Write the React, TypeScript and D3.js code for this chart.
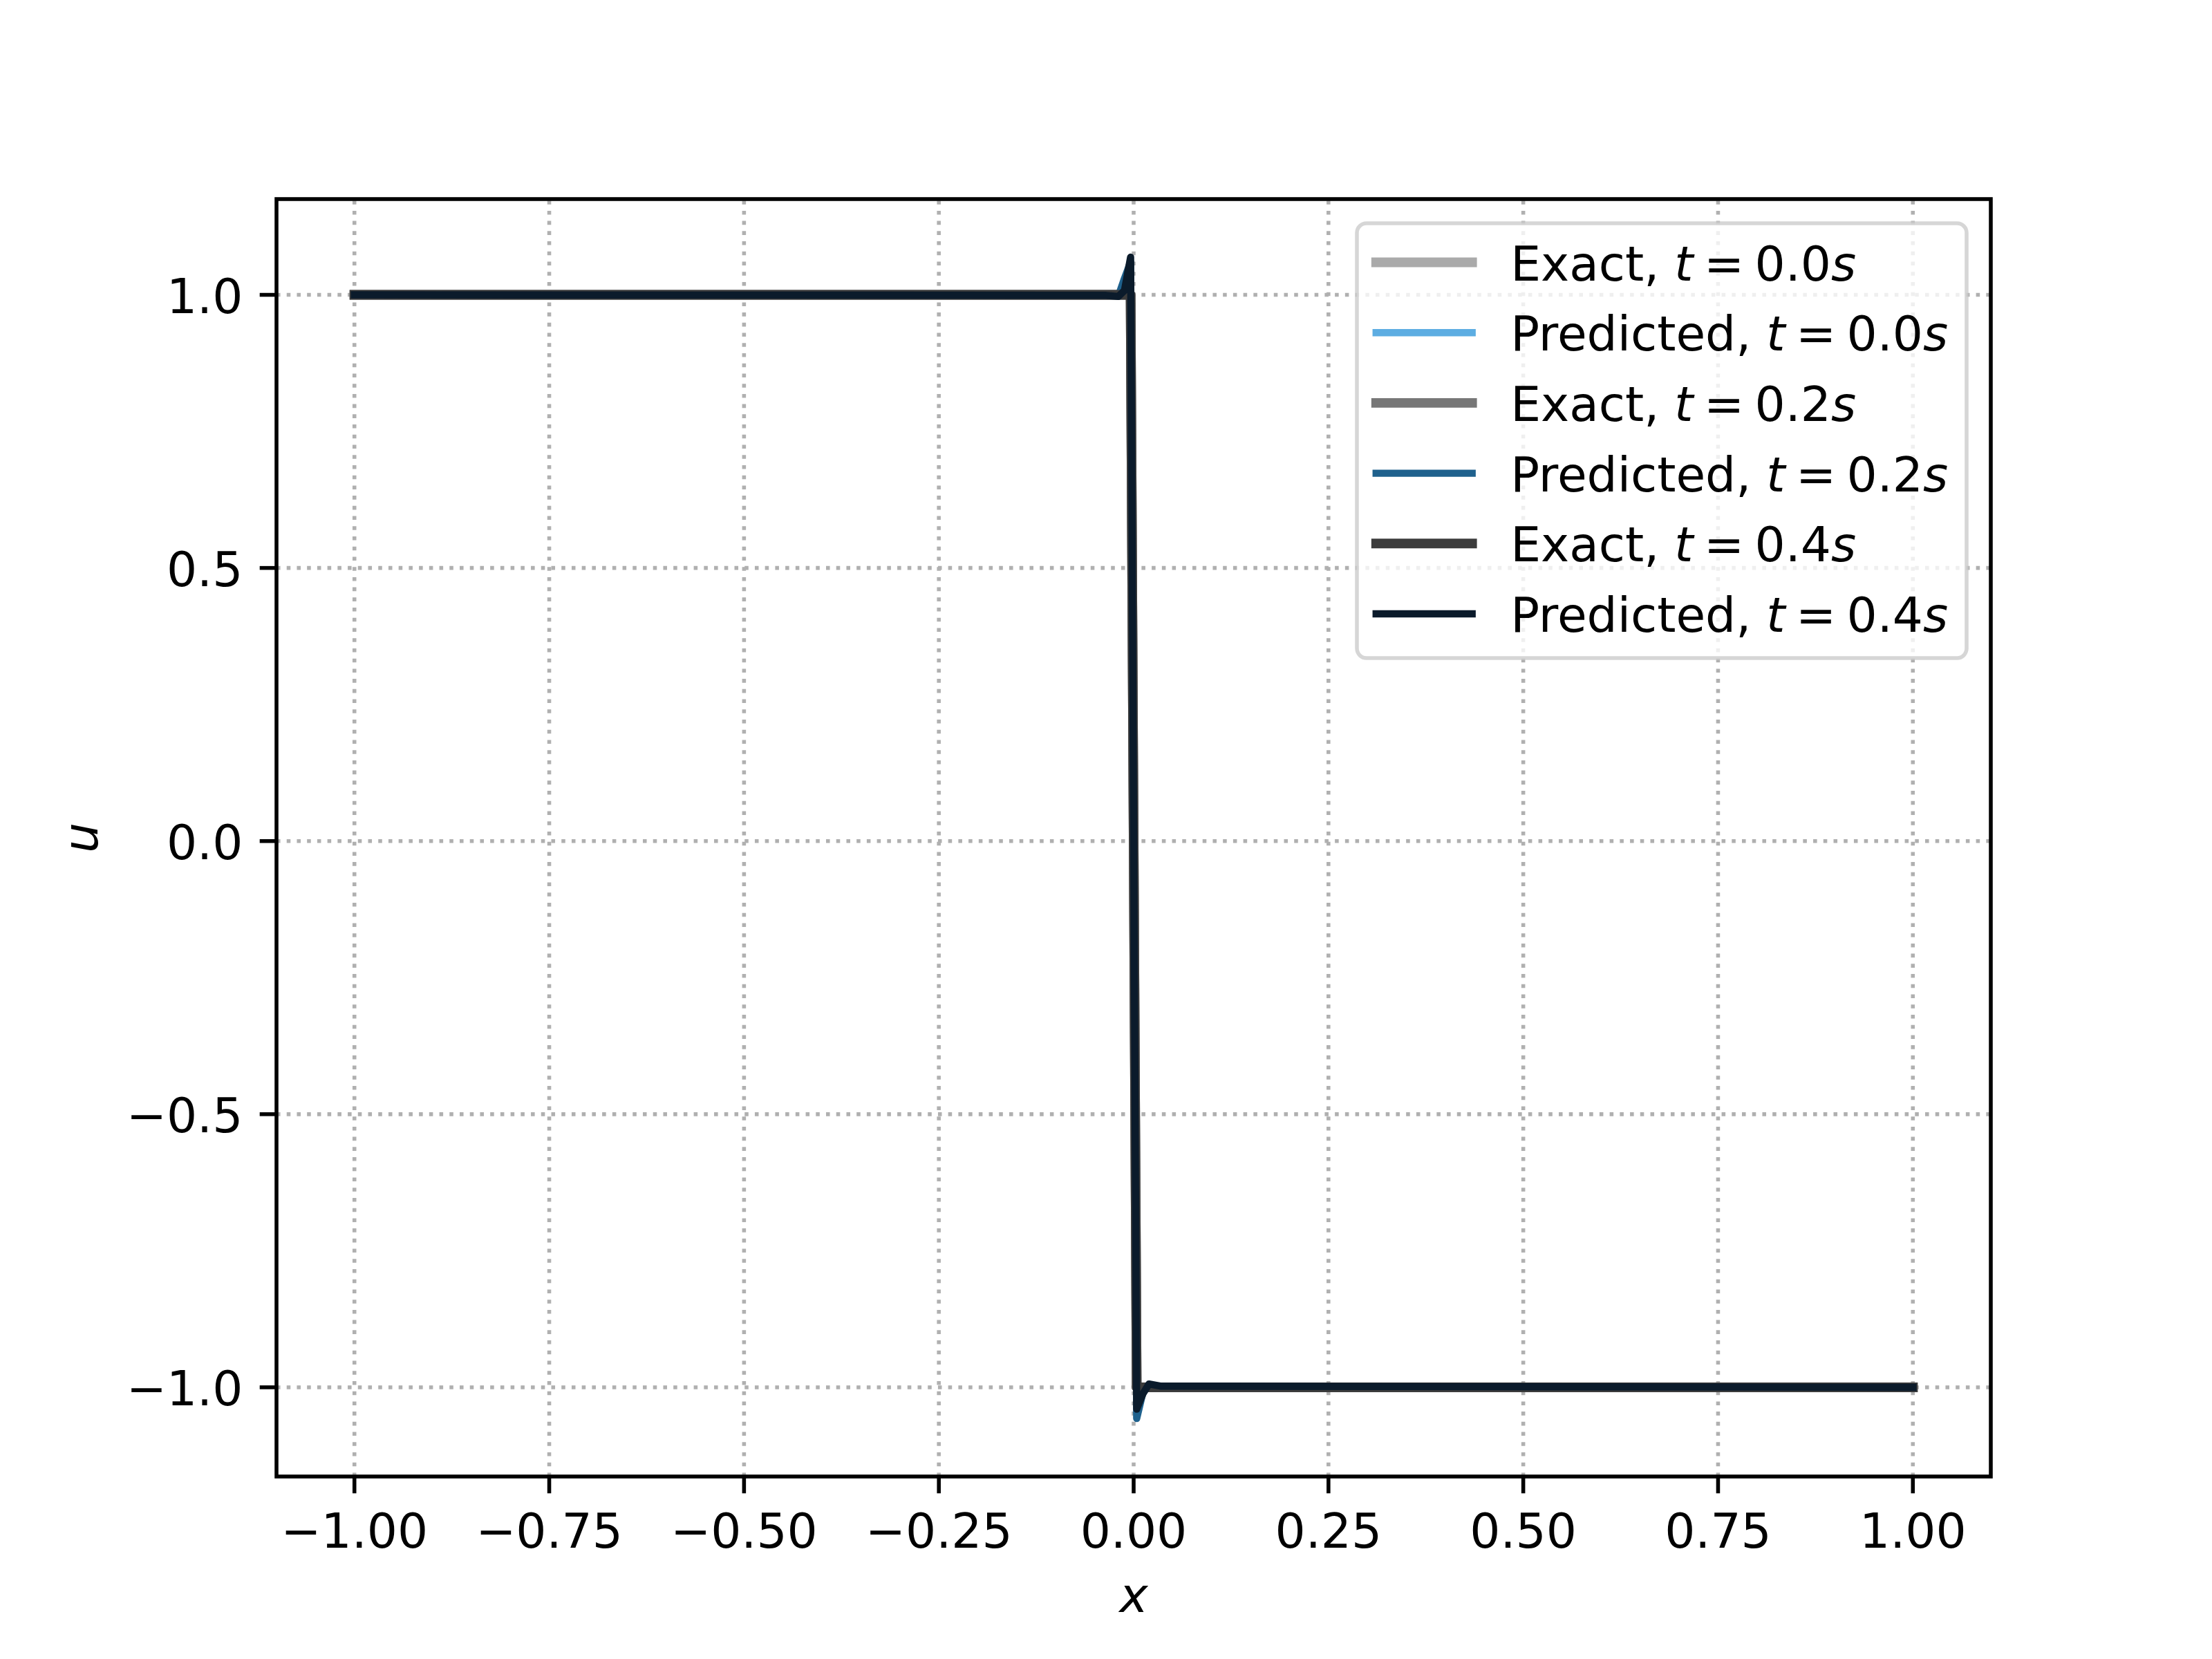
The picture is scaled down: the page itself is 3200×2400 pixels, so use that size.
import * as d3 from 'd3';

// exact solution: stationary shock at x = 0
const xExact = [-1, -0.0039, 0.0039, 1];
const uExact00 = [1, 1, -1, -1];
const uExact02 = [1, 1, -1, -1];
const uExact04 = [1, 1, -1, -1];

// network predictions (small overshoot around the shock)
const xPred = [-1, -0.0353, -0.0196, -0.0118, -0.0039, 0.0039, 0.0118, 0.0196, 0.0353, 1];
const uPred00 = [1, 1, 0.999, 1.004, 1.035, -1.03, -1.006, -0.997, -0.999, -1];
const uPred02 = [1, 0.999, 0.998, 1.03, 1.06, -1.057, -1.01, -0.996, -0.999, -1];
const uPred04 = [1, 0.999, 0.997, 1.008, 1.069, -1.04, -1.012, -0.994, -0.998, -1];

const times = ['0.0', '0.2', '0.4'];
const xTicks = [-1, -0.75, -0.5, -0.25, 0, 0.25, 0.5, 0.75, 1];
const yTicks = [-1, -0.5, 0, 0.5, 1];

const W = 3200;
const H = 2400;
const PT = 500 / 72;
const FS = 10 * PT;
const margin = { left: 400, right: 320, top: 288, bottom: 264 };

const series = [
  { kind: 'Exact', t: times[0], xs: xExact, ys: uExact00, color: '#aaaaaa', lw: 2 * PT },
  { kind: 'Predicted', t: times[0], xs: xPred, ys: uPred00, color: '#5dade2', lw: 1.5 * PT },
  { kind: 'Exact', t: times[1], xs: xExact, ys: uExact02, color: '#777777', lw: 2 * PT },
  { kind: 'Predicted', t: times[1], xs: xPred, ys: uPred02, color: '#1f618d', lw: 1.5 * PT },
  { kind: 'Exact', t: times[2], xs: xExact, ys: uExact04, color: '#3c3c3c', lw: 2 * PT },
  { kind: 'Predicted', t: times[2], xs: xPred, ys: uPred04, color: '#0b1b2b', lw: 1.5 * PT },
];

export default function App() {
  const x0 = margin.left;
  const x1 = W - margin.right;
  const y0 = margin.top;
  const y1 = H - margin.bottom;

  const allY = series.flatMap((s) => s.ys);
  const [ymin, ymax] = d3.extent(allY) as [number, number];
  const pad = (ymax - ymin) * 0.05;

  const x = d3.scaleLinear().domain([-1.1, 1.1]).range([x0, x1]);
  const y = d3.scaleLinear().domain([ymin - pad, ymax + pad]).range([y1, y0]);

  const line = d3
    .line<[number, number]>()
    .x((d) => x(d[0]))
    .y((d) => y(d[1]));

  const fx = d3.format('.2f');
  const fy = d3.format('.1f');
  const tickLen = 3.5 * PT;
  const gridW = 0.8 * PT;
  const dash = `${gridW} ${1.65 * gridW}`;

  // legend geometry
  const lgLeft = 1963;
  const lgTop = 323;
  const lgRight = 2845;
  const lgBottom = 952;
  const rowY0 = 379.5;
  const rowStep = 101.7;
  const hx0 = lgLeft + 0.4 * FS;
  const hx1 = hx0 + 2 * FS;
  const tx = hx1 + 0.8 * FS;
  const relSpace = (4 / 18) * FS;

  return (
    <svg
      width={W}
      height={H}
      style={{ position: 'absolute', left: 0, top: 0, background: '#fff' }}
      fontFamily="DejaVu Sans"
    >
      <rect x={0} y={0} width={W} height={H} fill="#fff" />
      <defs>
        <clipPath id="plot">
          <rect x={x0} y={y0} width={x1 - x0} height={y1 - y0} />
        </clipPath>
      </defs>

      {/* grid */}
      <g stroke="#b0b0b0" strokeWidth={gridW} strokeDasharray={dash}>
        {xTicks.map((v) => (
          <line key={'gx' + v} x1={x(v)} x2={x(v)} y1={y1} y2={y0} />
        ))}
        {yTicks.map((v) => (
          <line key={'gy' + v} x1={x0} x2={x1} y1={y(v)} y2={y(v)} />
        ))}
      </g>

      {/* curves */}
      <g clipPath="url(#plot)" fill="none">
        {series.map((s, i) => (
          <path
            key={i}
            d={line(s.xs.map((v, j) => [v, s.ys[j]] as [number, number])) || ''}
            stroke={s.color}
            strokeWidth={s.lw}
            strokeLinecap="square"
            strokeLinejoin="round"
          />
        ))}
      </g>

      {/* spines */}
      <rect
        x={x0}
        y={y0}
        width={x1 - x0}
        height={y1 - y0}
        fill="none"
        stroke="#000"
        strokeWidth={0.8 * PT}
      />

      {/* x ticks */}
      <g fontSize={FS} textAnchor="middle">
        {xTicks.map((v) => (
          <g key={'tx' + v}>
            <line x1={x(v)} x2={x(v)} y1={y1} y2={y1 + tickLen} stroke="#000" strokeWidth={0.8 * PT} />
            <text x={x(v)} y={2239}>
              {fx(v)}
            </text>
          </g>
        ))}
      </g>

      {/* y ticks */}
      <g fontSize={FS} textAnchor="end">
        {yTicks.map((v) => (
          <g key={'ty' + v}>
            <line x1={x0} x2={x0 - tickLen} y1={y(v)} y2={y(v)} stroke="#000" strokeWidth={0.8 * PT} />
            <text x={x0 - 2 * tickLen} y={y(v) + 26}>
              {fy(v)}
            </text>
          </g>
        ))}
      </g>

      {/* axis labels */}
      <text x={(x0 + x1) / 2} y={2332} fontSize={FS} fontStyle="italic" textAnchor="middle">
        x
      </text>
      <text
        transform={`translate(141, ${(y0 + y1) / 2}) rotate(-90)`}
        fontSize={FS}
        fontStyle="italic"
        textAnchor="middle"
      >
        u
      </text>

      {/* legend */}
      <rect
        x={lgLeft}
        y={lgTop}
        width={lgRight - lgLeft}
        height={lgBottom - lgTop}
        rx={0.2 * FS}
        ry={0.2 * FS}
        fill="#fff"
        fillOpacity={0.8}
        stroke="#cccccc"
        strokeOpacity={0.8}
        strokeWidth={0.8 * PT}
      />
      {series.map((s, i) => {
        const ry = rowY0 + i * rowStep;
        return (
          <g key={'lg' + i}>
            <line
              x1={hx0}
              x2={hx1}
              y1={ry}
              y2={ry}
              stroke={s.color}
              strokeWidth={s.lw}
              strokeLinecap="square"
            />
            <text x={tx} y={ry + 26} fontSize={FS}>
              {s.kind + ', '}
              <tspan fontStyle="italic">t</tspan>
              <tspan dx={relSpace}>=</tspan>
              <tspan dx={relSpace}>{s.t}</tspan>
              <tspan fontStyle="italic">s</tspan>
            </text>
          </g>
        );
      })}
    </svg>
  );
}
